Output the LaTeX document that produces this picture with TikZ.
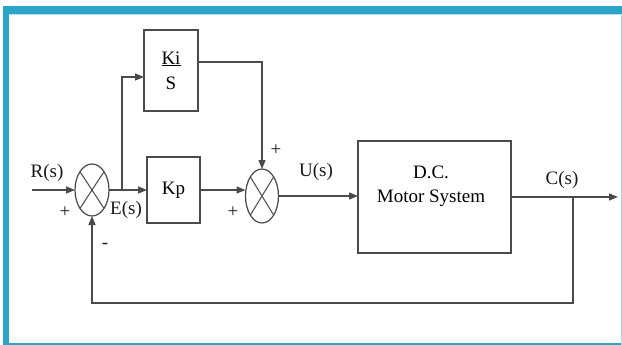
\documentclass[tikz,border=0pt]{standalone}
\usepackage{fontspec}
\setmainfont{Liberation Serif}
\usetikzlibrary{shapes.geometric,arrows.meta}
\definecolor{frameteal}{HTML}{2AA5C8}
\definecolor{ln}{HTML}{4A4A4A}
\begin{document}
\begin{tikzpicture}[x=1pt,y=-1pt,
  font=\fontsize{19}{22}\selectfont,
  every node/.style={inner sep=0pt,outer sep=0pt},
  blk/.style={draw=ln,line width=1.4pt,rectangle,fill=white},
  sumnode/.style={draw=ln,line width=1.2pt,ellipse},
  wire/.style={draw=ln,line width=1.4pt},
  arr/.style={wire,-{Triangle[length=9pt,width=7pt]}},
  lbl/.style={text=black!90}
]
\useasboundingbox (0,0) rectangle (622,345);
% frame
\fill[frameteal] (3,6) rectangle (622,14);
\fill[frameteal] (3,6) rectangle (9,345);
\fill[frameteal] (3,342.5) rectangle (622,345);
\fill[frameteal!40] (620.5,14) rectangle (622,345);
\fill[frameteal!35] (9,14) rectangle (622,15.5);

% blocks
\node[sumnode,minimum width=34pt,minimum height=52pt] (s1) at (92,190) {};
\draw[ln,line width=1pt] (s1.north west) -- (s1.south east) (s1.north east) -- (s1.south west);
\node[blk,minimum width=54pt,minimum height=81pt,align=center] (ki) at (171,70.5) {\underline{Ki}\\[3pt]S};
\node[blk,minimum width=53pt,minimum height=66pt] (kp) at (173.5,190) {Kp};
\node[sumnode,minimum width=33pt,minimum height=54pt] (s2) at (262,196) {};
\draw[ln,line width=1pt] (s2.north west) -- (s2.south east) (s2.north east) -- (s2.south west);
\node[blk,minimum width=153pt,minimum height=112pt] (motor) at (434.5,197) {};
\node[align=center] (mtxt) at (431,186) {D.C.\\[2pt]Motor System};

% coordinates
\coordinate (rin) at (32,190);
\coordinate (br1) at (122,190);
\coordinate (kin) at (144,77);
\coordinate (kout) at (198,62);
\coordinate (kc) at (262,62);
\coordinate (br2) at (573,197);
\coordinate (cout) at (618,197);
\coordinate (fb1) at (573,303);
\coordinate (fb2) at (92,303);

% connectors
\draw[arr] (rin) -- (s1.west);
\draw[arr] (s1.east) -- (kp.west);
\draw[arr] (br1) |- (kin);
\draw[arr] (kout) -- (kc) -- (s2.north);
\draw[arr] (kp.east) -- (kp.east -| s2.west);
\draw[arr] (s2.east) -- (s2.east -| motor.west);
\draw[arr] (motor.east |- br2) -- (cout);
\draw[arr] (br2) -- (fb1) -- (fb2) -- (s1.south);

% labels
\node[lbl] (lr) at (47,173) {R(s)};
\node[lbl] (lp1) at (65,212) {+};
\node[lbl] (le) at (126,210) {E(s)};
\node[lbl] (lm) at (105,246) {-};
\node[lbl] (lp2) at (276,150) {+};
\node[lbl] (lp3) at (233,212) {+};
\node[lbl] (lu) at (316,172) {U(s)};
\node[lbl] (lc) at (562,180) {C(s)};
\end{tikzpicture}
\end{document}
